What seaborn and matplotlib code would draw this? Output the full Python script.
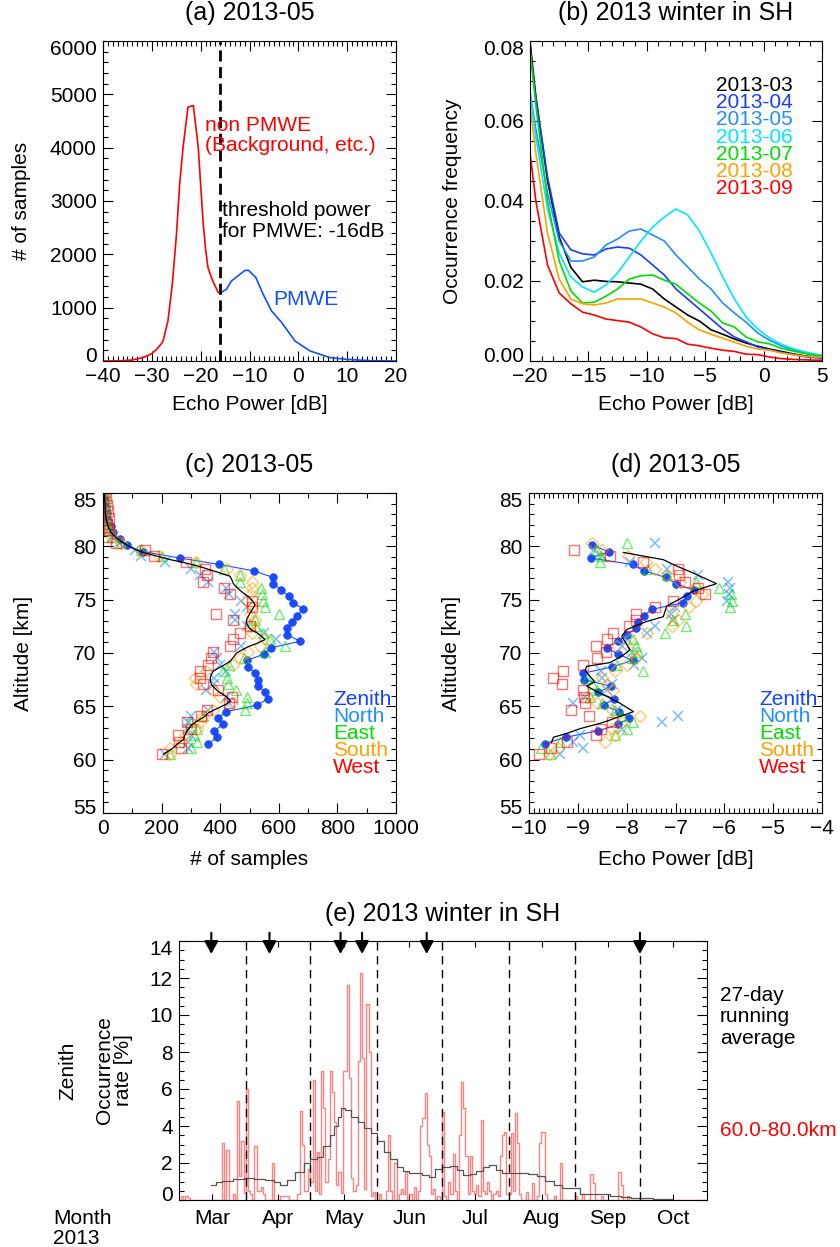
import numpy as np
import pandas as pd
import matplotlib
matplotlib.use("Agg")
import matplotlib.pyplot as plt
from matplotlib.ticker import MultipleLocator, FormatStrFormatter, FixedLocator
from matplotlib.transforms import ScaledTranslation
import seaborn as sns

# ------------------------------------------------------------------
# (a) Echo power histogram, 2013-05
# ------------------------------------------------------------------
nonpmwe_power = [-40, -36, -34, -32, -31, -30, -29, -28, -27.7, -26.7, -25.8, -24.95,
                 -24.3, -23.6, -22.6, -21.5, -20.5, -20.0, -19.5, -19.0, -18.5, -17.6,
                 -17.0, -16.4, -16.0]
nonpmwe_count = [0, 5, 20, 60, 95, 140, 220, 330, 376, 752, 1446, 2380,
                 3320, 4007, 4760, 4790, 4008, 3300, 2600, 2100, 1750, 1515,
                 1400, 1284, 1275]
pmwe_power = [-16.0, -14.7, -13.7, -12.6, -10.9, -10.2, -8.7, -7.2, -5.5, -3.4,
              -0.7, 2.4, 6.5, 9.9, 15.0, 20.0]
pmwe_count = [1275, 1347, 1500, 1580, 1700, 1700, 1566, 1250, 940, 720,
              376, 188, 63, 31, 5, 0]
threshold_db = -16

# ------------------------------------------------------------------
# (b) Occurrence frequency of echo power, monthly
# ------------------------------------------------------------------
power_bins = [-20.0, -19.5, -18.5, -17.5, -16.5, -15.5, -14.5, -13.5, -12.5, -11.5,
              -10.5, -9.5, -8.5, -7.5, -6.5, -5.5, -4.5, -3.5, -2.5, -1.5,
              -0.5, 0.5, 1.5, 2.5, 3.5, 4.5, 5.0]
freq_2013_03 = [0.080, 0.066, 0.045, 0.031, 0.0234, 0.0198, 0.0202, 0.0199, 0.0198, 0.0195,
                0.0192, 0.0180, 0.0155, 0.0135, 0.0115, 0.0100, 0.0078, 0.0067, 0.0055, 0.0045,
                0.0037, 0.0030, 0.0024, 0.0018, 0.0013, 0.0010, 0.0008]
freq_2013_04 = [0.078, 0.066, 0.046, 0.032, 0.0278, 0.0268, 0.0265, 0.0280, 0.0285, 0.0282,
                0.0265, 0.0240, 0.0215, 0.0180, 0.0155, 0.0130, 0.0105, 0.0080, 0.0060, 0.0048,
                0.0035, 0.0028, 0.0022, 0.0016, 0.0011, 0.0008, 0.0007]
freq_2013_05 = [0.067, 0.058, 0.042, 0.030, 0.0250, 0.0250, 0.0260, 0.0290, 0.0305, 0.0325,
                0.0330, 0.0315, 0.0300, 0.0265, 0.0235, 0.0205, 0.0180, 0.0145, 0.0120, 0.0097,
                0.0070, 0.0052, 0.0038, 0.0028, 0.0020, 0.0015, 0.0013]
freq_2013_06 = [0.067, 0.056, 0.038, 0.027, 0.0210, 0.0185, 0.0172, 0.0190, 0.0220, 0.0260,
                0.0300, 0.0335, 0.0360, 0.0380, 0.0365, 0.0325, 0.0270, 0.0210, 0.0155, 0.0110,
                0.0080, 0.0058, 0.0042, 0.0031, 0.0023, 0.0017, 0.0015]
freq_2013_07 = [0.078, 0.064, 0.040, 0.025, 0.0175, 0.0145, 0.0147, 0.0162, 0.0180, 0.0205,
                0.0213, 0.0215, 0.0202, 0.0192, 0.0168, 0.0145, 0.0125, 0.0095, 0.0085, 0.0060,
                0.0048, 0.0043, 0.0032, 0.0025, 0.0019, 0.0014, 0.0012]
freq_2013_08 = [0.064, 0.052, 0.032, 0.0205, 0.0155, 0.0143, 0.0140, 0.0145, 0.0155, 0.0155,
                0.0155, 0.0145, 0.0135, 0.0120, 0.0097, 0.0078, 0.0067, 0.0057, 0.0047, 0.0037,
                0.0030, 0.0027, 0.0020, 0.0016, 0.0012, 0.0010, 0.0009]
freq_2013_09 = [0.052, 0.040, 0.024, 0.017, 0.0143, 0.0122, 0.0115, 0.0105, 0.0101, 0.0097,
                0.0085, 0.0068, 0.0058, 0.0056, 0.0042, 0.0038, 0.0032, 0.0027, 0.0024, 0.0017,
                0.0016, 0.0010, 0.0006, 0.0004, 0.0003, 0.0002, 0.0002]
months_b = ["2013-03", "2013-04", "2013-05", "2013-06", "2013-07", "2013-08", "2013-09"]
month_colors = ["#000000", "#1a3cff", "#1e8fff", "#00e8ff", "#00dd00", "#ffa000", "#ff0000"]

# ------------------------------------------------------------------
# (c), (d) Altitude profiles by beam, 2013-05
# ------------------------------------------------------------------
beams = ["Zenith", "North", "East", "South", "West"]
beam_colors = ["#1144ff", "#1e90ff", "#00dd00", "#ffa000", "#ff0000"]

zen_alt_c = np.round(61.5 + 0.6 * np.arange(40), 1)
zen_count = [359, 390, 380, 408, 393, 420, 525, 562, 553, 530,
             528, 519, 496, 490, 550, 575, 673, 629, 629, 645,
             661, 684, 650, 636, 608, 581, 579, 515, 397, 264,
             137, 81, 57, 35, 28, 18, 14, 10, 7, 5]

obl_alt_c = np.round(60.5 + 0.6 * np.arange(42), 1)
north_count = [210, 290, 290, 300, 290, 290, 300, 360, 430, 420, 350, 380, 380, 420,
               400, 390, 380, 470, 590, 550, 490, 450, 450, 490, 470, 430, 420, 360,
               330, 300, 210, 130, 110, 55, 30, 20, 12, 8, 6, 5, 4, 3]
east_count = [230, 300, 320, 310, 320, 300, 340, 485, 490, 490, 454, 428, 422, 411,
              430, 480, 553, 621, 570, 547, 520, 519, 602, 553, 547, 541, 538, 467,
              467, 413, 317, 200, 130, 60, 30, 20, 14, 10, 8, 6, 5, 4]
south_count = [230, 228, 268, 280, 320, 331, 340, 376, 440, 399, 376, 319, 314, 350,
               445, 467, 496, 536, 553, 510, 500, 519, 500, 510, 490, 502, 507, 507,
               467, 422, 319, 190, 130, 60, 30, 20, 14, 10, 8, 6, 5, 4]
west_count = [200, 265, 260, 257, 300, 285, 336, 354, 430, 440, 393, 342, 330, 330,
              360, 370, 376, 433, 445, 467, 502, 445, 385, 507, 507, 433, 413, 342,
              356, 348, 283, 173, 143, 46, 15, 20, 15, 20, 18, 15, 10, 8]

mean_alt_c = [60.5, 61.0, 61.4, 61.9, 62.3, 62.8, 63.2, 63.6, 64.0, 64.4, 64.8, 65.2,
              65.5, 65.9, 66.3, 66.6, 67.0, 67.4, 67.8, 68.3, 68.75, 69.2, 69.6, 70.0,
              70.3, 70.6, 70.9, 71.25, 71.6, 71.9, 72.2, 72.5, 72.8, 73.1, 73.4, 73.75,
              74.1, 74.5, 74.9, 75.3, 75.6, 75.9, 76.2, 76.5, 76.85, 77.2, 77.5, 77.8,
              78.1, 78.5, 78.75, 79.06, 79.4, 79.7, 80.0, 80.3, 80.6, 81.0, 81.3, 81.7,
              82.2, 82.7, 83.2, 83.7, 84.3, 85.0]
mean_count = [205, 235, 251, 275, 279, 290, 300, 320, 345, 360, 390, 420,
              435, 422, 398, 385, 371, 366, 367, 376, 405, 433, 445, 456,
              475, 496, 525, 553, 540, 525, 505, 496, 490, 490, 495, 502,
              510, 519, 510, 496, 480, 467, 455, 445, 440, 433, 400, 365,
              331, 273, 230, 188, 140, 110, 90, 70, 55, 38, 28, 20,
              14, 10, 8, 7, 6, 5]

zen_alt_d = np.round(61.5 + 0.6 * np.arange(32), 1)
zen_power = [-9.68, -9.25, -8.59, -8.17, -7.95, -8.15, -8.47, -8.26, -8.58, -8.33,
             -8.88, -8.89, -8.30, -7.88, -8.18, -8.41, -8.18, -8.00, -7.81, -7.76,
             -7.65, -7.48, -6.85, -6.77, -6.63, -6.99, -7.20, -7.65, -7.88, -8.74,
             -8.36, -8.71]

obl_alt_d = np.round(60.5 + 0.6 * np.arange(34), 1)
north_power = [-9.37, -8.90, -9.10, -8.96, -8.10, -7.28, -6.94, -8.20, -9.10, -8.85,
               -8.40, -8.30, -8.50, -8.52, -7.85, -7.69, -7.90, -8.10, -8.00, -7.59,
               -7.42, -7.05, -7.10, -7.01, -5.95, -5.90, -5.88, -5.92, -6.53, -7.18,
               -7.93, -8.50, -8.67, -7.42]
east_power = [-9.58, -9.75, -9.37, -8.24, -8.00, -7.87, -8.10, -8.24, -8.50, -8.75,
              -8.60, -8.70, -8.82, -7.67, -8.20, -7.90, -7.76, -7.80, -7.87, -7.22,
              -6.79, -7.05, -6.81, -5.88, -5.85, -5.86, -6.10, -6.57, -7.18, -7.59,
              -8.55, -8.52, -8.60, -7.99]
south_power = [-9.60, -9.40, -8.45, -8.24, -8.30, -8.10, -7.73, -8.30, -8.60, -8.82,
               -8.28, -8.40, -8.50, -8.24, -8.00, -7.80, -7.90, -8.20, -7.95, -7.59,
               -7.08, -6.95, -7.08, -6.72, -6.57, -6.45, -6.57, -6.90, -7.20, -7.42,
               -7.60, -7.97, -8.50, -8.72]
west_power = [-9.79, -9.54, -9.23, -8.63, -8.52, -8.30, -8.77, -9.13, -8.86, -8.88,
              -8.90, -9.32, -9.51, -9.30, -8.89, -8.60, -8.43, -8.63, -8.40, -8.29,
              -7.95, -7.80, -7.81, -7.42, -7.05, -6.40, -6.53, -6.80, -6.92, -6.94,
              -7.66, -8.34, -9.08, np.nan]

mean_alt_d = [61.6, 62.1, 62.5, 62.9, 63.4, 63.7, 64.05, 64.5, 64.9, 65.3, 65.8, 66.25,
              66.9, 67.3, 67.8, 68.4, 68.75, 69.1, 69.7, 70.3, 70.8, 71.56, 72.2, 72.96,
              73.4, 74.4, 75.1, 75.8, 76.5, 77.5, 78.2, 78.75, 79.43]
mean_power = [-9.54, -9.50, -9.20, -8.96, -8.55, -8.35, -8.14, -7.86, -8.00, -8.14, -8.35, -8.55,
              -8.82, -8.65, -8.75, -8.85, -8.82, -8.34, -8.10, -7.93, -8.00, -8.10, -8.00, -7.59,
              -7.25, -7.18, -6.90, -6.64, -6.16, -6.64, -7.00, -7.25, -8.07]

# ------------------------------------------------------------------
# (e) Daily zenith occurrence rate, 1 Mar - 31 Oct 2013
# ------------------------------------------------------------------
rate_mar = [0.0, 0.2, 0.0, 0.2, 0.1, 0.0, 0.0, 0.0, 0.0, 0.0, 0.0, 0.0, 0.0, 0.0, 0.0, 0.0,
            0.0, 0.0, 0.0, 0.0, 3.1, 0.0, 2.7, 0.0, 0.0, 0.3, 0.0, 5.35, 1.3, 3.2, 0.4]
rate_apr = [6.0, 0.5, 0.3, 0.0, 2.9, 0.5, 0.5, 0.7, 0.3, 0.0, 0.0, 0.0, 2.0, 0.0, 0.0,
            0.0, 0.2, 0.2, 0.2, 0.2, 0.0, 0.0, 0.0, 0.0, 0.3, 4.8, 3.0, 0.5, 0.5, 1.7]
rate_may = [1.0, 6.5, 0.5, 2.6, 0.3, 7.0, 5.0, 1.0, 2.2, 7.0, 5.85, 4.2, 0.8, 1.5, 0.4, 7.0,
            7.0, 11.6, 6.6, 1.2, 0.5, 0.8, 7.5, 12.25, 7.7, 0.6, 10.6, 8.0, 0.2, 0.45, 0.0]
rate_jun = [0.0, 0.3, 0.0, 0.0, 0.5, 3.5, 0.5, 0.0, 2.0, 0.0, 0.3, 0.6, 0.3, 1.5, 0.0,
            0.3, 0.0, 0.7, 0.0, 0.5, 4.0, 4.45, 5.8, 3.0, 2.4, 0.3, 0.6, 0.0, 0.2, 0.0]
rate_jul = [4.74, 0.2, 0.0, 1.0, 0.3, 2.5, 0.5, 0.0, 3.5, 6.4, 5.0, 2.4, 0.3, 2.4, 0.5, 0.3,
            0.8, 0.2, 4.3, 0.5, 0.3, 1.0, 0.5, 0.0, 0.3, 0.5, 0.2, 2.4, 3.5, 3.7, 0.3]
rate_aug = [0.3, 3.6, 0.5, 4.7, 3.1, 0.3, 0.0, 0.0, 0.45, 0.0, 0.0, 0.9, 0.0, 0.2, 3.1, 3.7,
            3.7, 0.3, 0.0, 0.0, 0.0, 0.2, 0.0, 0.0, 2.0, 0.0, 0.0, 0.0, 0.0, 0.0, 0.0]
rate_sep = [0.2, 0.0, 0.0, 0.3, 0.0, 0.0, 0.0, 1.4, 0.9, 0.0, 0.0, 0.0, 0.2, 0.0, 0.0,
            0.0, 0.0, 0.0, 0.0, 0.0, 1.5, 0.8, 0.0, 0.0, 0.2, 0.0, 0.0, 0.0, 0.0, 0.0]
rate_oct = [0.0] * 31

# running average (day of season, value)
window_days = 27
avg_day = [15, 17, 20, 25, 30, 35, 40, 44, 47, 50, 54, 58, 61, 64, 67, 70, 72, 74, 75, 77,
           80, 83, 86, 89, 92, 95, 98, 101, 104, 107, 110, 113, 116, 119, 122, 126, 129, 132,
           135, 138, 141, 144, 147, 150, 154, 158, 162, 166, 170, 174, 178, 182, 186, 190,
           195, 200, 205, 210, 215, 220, 225, 229]
avg_rate = [0.8, 1.0, 1.05, 1.15, 1.2, 1.15, 1.1, 0.95, 0.8, 1.1, 1.5, 2.0, 2.2, 2.3, 2.9, 3.5,
            4.0, 4.5, 5.0, 4.85, 4.5, 4.2, 3.9, 3.6, 3.2, 2.6, 2.2, 1.8, 1.55, 1.45, 1.45, 1.35,
            1.25, 1.7, 1.8, 1.85, 1.6, 1.35, 1.4, 1.55, 1.8, 1.9, 1.6, 1.45, 1.45, 1.45, 1.4,
            1.3, 1.05, 0.8, 0.63, 0.63, 0.3, 0.35, 0.3, 0.2, 0.18, 0.13, 0.1, 0.08, 0.04, 0.0]

alt_range_km = (60.0, 80.0)
month_names = ["Mar", "Apr", "May", "Jun", "Jul", "Aug", "Sep", "Oct"]
month_lengths = [31, 30, 31, 30, 31, 31, 30, 31]
event_days = [15, 42, 75, 85, 115, 214]

# ------------------------------------------------------------------
# Style
# ------------------------------------------------------------------
sns.set_theme(style="ticks")
plt.rcParams["font.family"] = ["Liberation Sans", "DejaVu Sans"]
plt.rcParams.update({
    "xtick.labelsize": 15, "ytick.labelsize": 15, "axes.labelsize": 15,
    "xtick.direction": "in", "ytick.direction": "in",
    "xtick.major.pad": 4.5, "ytick.major.pad": 4.5,
    "axes.edgecolor": "black", "axes.linewidth": 0.8,
    "xtick.color": "black", "ytick.color": "black",
    "text.color": "black", "axes.labelcolor": "black",
})

W, H = 840, 1247
fig = plt.figure(figsize=(W / 100, H / 100), dpi=100)
TITLE_SIZE = 18


def add_box(left, top, right, bottom):
    return fig.add_axes([left / W, 1 - bottom / H, (right - left) / W, (bottom - top) / H])


def frame(ax, xmaj, xmin, ymaj, ymin):
    ax.xaxis.set_major_locator(MultipleLocator(xmaj))
    ax.xaxis.set_minor_locator(MultipleLocator(xmin))
    ax.yaxis.set_major_locator(MultipleLocator(ymaj))
    ax.yaxis.set_minor_locator(MultipleLocator(ymin))
    ax.tick_params(which="both", direction="in", top=True, right=True, width=0.8)
    ax.tick_params(which="major", length=7)
    ax.tick_params(which="minor", length=3.5)


def pull_end_labels(ax, off_px=6.5):
    """Nudge the lowest and highest y tick labels inside the axis range."""
    lo, hi = ax.get_ylim()
    for tick in ax.yaxis.get_major_ticks():
        loc = tick.get_loc()
        if np.isclose(loc, lo):
            dy = off_px
        elif np.isclose(loc, hi):
            dy = -off_px
        else:
            continue
        for lab in (tick.label1, tick.label2):
            lab.set_transform(lab.get_transform()
                              + ScaledTranslation(0, dy / 100, fig.dpi_scale_trans))


ax_a = add_box(103, 41, 396, 361)
ax_b = add_box(530, 41, 822, 361)
ax_c = add_box(103, 493, 396, 813)
ax_d = add_box(529, 493, 822, 813)
ax_e = add_box(179, 941, 706.7, 1200)

# ---------------- (a) ----------------
sns.lineplot(x=nonpmwe_power, y=nonpmwe_count, ax=ax_a, color="#ff0000", lw=1.2,
             sort=False, estimator=None)
sns.lineplot(x=pmwe_power, y=pmwe_count, ax=ax_a, color="#1050ff", lw=1.2,
             sort=False, estimator=None)
ax_a.axvline(threshold_db, color="black", lw=2, dashes=(4, 2))
ax_a.set_xlim(-40, 20)
ax_a.set_ylim(0, 6000)
frame(ax_a, 10, 1, 1000, 200)
ax_a.set_title("(a) 2013-05", fontsize=TITLE_SIZE, y=1 + 19.5 / 320, va="center")
ax_a.set_xlabel("Echo Power [dB]")
ax_a.set_ylabel("# of samples")
ax_a.xaxis.set_label_coords(0.5, -0.135)
ax_a.yaxis.set_label_coords(-0.277, 0.5)
ax_a.xaxis.label.set_va("center")
ax_a.yaxis.label.set_va("center")
tA = ax_a.transAxes
ax_a.text(0.348, 1 - (151 - 41) / 320, "non PMWE\n(Background, etc.)", color="#ff0000",
          fontsize=15, transform=tA, va="baseline", linespacing=1.05)
ax_a.text(0.406, 1 - (237 - 41) / 320, f"threshold power\nfor PMWE: {threshold_db}dB",
          fontsize=15, transform=tA, va="baseline", linespacing=1.1)
ax_a.text(0.580, 1 - (305 - 41) / 320, "PMWE", color="#1050ff", fontsize=15,
          transform=tA, va="baseline")

# ---------------- (b) ----------------
freqs = [freq_2013_03, freq_2013_04, freq_2013_05, freq_2013_06,
         freq_2013_07, freq_2013_08, freq_2013_09]
df_b = pd.DataFrame({
    "power": np.tile(power_bins, len(months_b)),
    "freq": np.concatenate(freqs),
    "month": np.repeat(months_b, len(power_bins)),
})
sns.lineplot(data=df_b, x="power", y="freq", hue="month",
             palette=dict(zip(months_b, month_colors)), legend=False,
             ax=ax_b, lw=1.2, sort=False, estimator=None)
ax_b.set_xlim(-20, 5)
ax_b.set_ylim(0, 0.08)
frame(ax_b, 5, 1, 0.02, 0.005)
ax_b.yaxis.set_major_formatter(FormatStrFormatter("%.2f"))
ax_b.set_title("(b) 2013 winter in SH", fontsize=TITLE_SIZE, y=1 + 19.5 / 320, va="center")
ax_b.set_xlabel("Echo Power [dB]")
ax_b.set_ylabel("Occurrence frequency")
ax_b.xaxis.set_label_coords(0.5, -0.135)
ax_b.yaxis.set_label_coords(-0.264, 0.5)
ax_b.xaxis.label.set_va("center")
ax_b.yaxis.label.set_va("center")
for i, (m, c) in enumerate(zip(months_b, month_colors)):
    ax_b.text((793 - 530) / 292, 1 - (91 + 17.2 * i - 41) / 320, m, color=c,
              fontsize=15, ha="right", va="baseline", transform=ax_b.transAxes)

# ---------------- (c), (d) ----------------
obl_c = [north_count, east_count, south_count, west_count]
obl_d = [north_power, east_power, south_power, west_power]
obl_markers = [("x", 6.5), ("^", 7.5), ("D", 6), ("s", 7.5)]


def profiles(ax, zen_x, zen_alt, obl_vals, obl_alt, mean_x, mean_alt):
    sns.lineplot(x=zen_x, y=zen_alt, ax=ax, color=beam_colors[0], lw=0.8,
                 marker="o", ms=5.5, mfc=beam_colors[0], mec=beam_colors[0], mew=0.5,
                 sort=False, estimator=None, alpha=0.95)
    for vals, col, (mk, ms) in zip(obl_vals, beam_colors[1:], obl_markers):
        if mk == "x":
            sns.lineplot(x=vals, y=obl_alt, ax=ax, ls="", marker=mk, ms=ms,
                         mec=col, mew=1.1, alpha=0.6, sort=False, estimator=None)
        else:
            sns.lineplot(x=vals, y=obl_alt, ax=ax, ls="", marker=mk, ms=ms,
                         mfc="none", mec=col, mew=1.0, alpha=0.55, sort=False,
                         estimator=None)
    sns.lineplot(x=mean_x, y=mean_alt, ax=ax, color="black", lw=0.9,
                 sort=False, estimator=None)
    for i, (b, c) in enumerate(zip(beams, beam_colors)):
        ax.text(0.786, 1 - (705 + 17 * i - 493) / 320, b, color=c, fontsize=15,
                va="baseline", transform=ax.transAxes)
    ax.set_ylim(55, 85)
    ax.set_ylabel("Altitude [km]")
    ax.yaxis.label.set_va("center")
    ax.xaxis.label.set_va("center")


profiles(ax_c, zen_count, zen_alt_c, obl_c, obl_alt_c, mean_count, mean_alt_c)
ax_c.set_xlim(0, 1000)
frame(ax_c, 200, 100, 5, 1)
ax_c.set_title("(c) 2013-05", fontsize=TITLE_SIZE, y=1 + 19.5 / 320, va="center")
ax_c.set_xlabel("# of samples")
ax_c.xaxis.set_label_coords(0.5, -0.145)
ax_c.yaxis.set_label_coords(-0.273, 0.5)

profiles(ax_d, zen_power, zen_alt_d, obl_d, obl_alt_d, mean_power, mean_alt_d)
ax_d.set_xlim(-10, -4)
frame(ax_d, 1, 0.1, 5, 1)
ax_d.set_title("(d) 2013-05", fontsize=TITLE_SIZE, y=1 + 19.5 / 320, va="center")
ax_d.set_xlabel("Echo Power [dB]")
ax_d.xaxis.set_label_coords(0.5, -0.145)
ax_d.yaxis.set_label_coords(-0.263, 0.5)

# ---------------- (e) ----------------
daily_rate = np.concatenate([rate_mar, rate_apr, rate_may, rate_jun,
                             rate_jul, rate_aug, rate_sep, rate_oct])
n_days = len(daily_rate)
day_edges = np.arange(n_days + 1)
sns.lineplot(x=day_edges, y=np.append(daily_rate, daily_rate[-1]), ax=ax_e,
             drawstyle="steps-post", color="#ff3030", alpha=0.6, lw=1.0,
             sort=False, estimator=None)
sns.lineplot(x=avg_day, y=avg_rate, ax=ax_e, drawstyle="steps-post",
             color="#555555", lw=0.9, sort=False, estimator=None)

month_start = np.concatenate([[0], np.cumsum(month_lengths)])
for d in month_start[1:-1]:
    ax_e.axvline(d, color="black", lw=1.0, dashes=(6, 4))
month_mid = (month_start[:-1] + month_start[1:]) / 2

ax_e.set_xlim(0, n_days)
ax_e.set_ylim(0, 14)
ax_e.xaxis.set_major_locator(FixedLocator(month_mid))
ax_e.set_xticklabels(month_names, fontsize=15)
ax_e.yaxis.set_major_locator(MultipleLocator(2))
ax_e.yaxis.set_minor_locator(MultipleLocator(0.5))
ax_e.tick_params(axis="y", which="both", direction="in", left=True, right=True, width=0.8)
ax_e.tick_params(axis="y", which="major", length=7)
ax_e.tick_params(axis="y", which="minor", length=3.5)
ax_e.tick_params(axis="x", which="major", direction="in", top=True, bottom=True,
                 length=4, width=0.8, pad=6.5)
ax_e.set_title("(e) 2013 winter in SH", fontsize=TITLE_SIZE, y=1 + 19 / 259, va="center")
ax_e.set_ylabel("Occurrence\nrate [%]", fontsize=15, linespacing=1.0)
ax_e.yaxis.set_label_coords((114 - 179) / 527.7, 0.5)
ax_e.yaxis.label.set_va("center")

for d in event_days:
    ax_e.annotate("", xy=(d, 13.3), xytext=(d, 14.45),
                  arrowprops=dict(arrowstyle="-|>,head_length=0.55,head_width=0.3",
                                  color="black", lw=1.5, shrinkA=0, shrinkB=0,
                                  mutation_scale=14),
                  annotation_clip=False)

fig.text(68 / W, 1 - 1071 / H, "Zenith", rotation=90, ha="center", va="center", fontsize=15)
fig.text(53 / W, 1 - 1244 / H, "Month\n2013", ha="left", va="baseline", fontsize=15,
         linespacing=1.1)
fig.text(720 / W, 1 - 1044 / H, f"{window_days}-day\nrunning\naverage", ha="left",
         va="baseline", fontsize=15, linespacing=1.17)
fig.text(720 / W, 1 - 1136 / H, f"{alt_range_km[0]:.1f}-{alt_range_km[1]:.1f}km",
         ha="left", va="baseline", fontsize=15, color="#ff0000")

fig.canvas.draw()
for ax in (ax_a, ax_b, ax_c, ax_d, ax_e):
    pull_end_labels(ax)

fig.savefig("out.png", dpi=100)
